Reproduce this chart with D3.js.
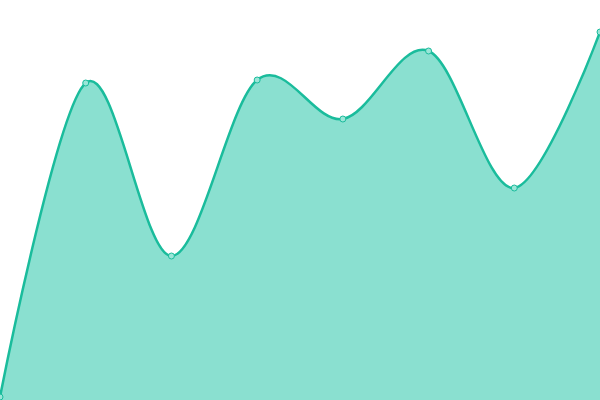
<!DOCTYPE html>
<html>
<head>
<meta charset="utf-8">
<script src="https://cdn.jsdelivr.net/npm/d3@7"></script>
<style>
  body { margin: 0; background: #fff; }
  svg { display: block; }
</style>
</head>
<body>
<div id="chart"></div>
<script>
var width = 600, height = 400;

// x index and height of each point
var categories = [0, 1, 2, 3, 4, 5, 6, 7];
var values = [3, 317, 144, 320, 281, 349, 212, 368];

var x = d3.scaleLinear().domain([0, categories.length - 1]).range([0, width]);
var y = d3.scaleLinear().domain([0, 400]).range([height, 0]);

var svg = d3.select("#chart").append("svg")
    .attr("width", width)
    .attr("height", height);

var data = categories.map(function (c, i) { return { c: c, v: values[i] }; });

var area = d3.area()
    .x(function (d) { return x(d.c); })
    .y0(height)
    .y1(function (d) { return y(d.v); })
    .curve(d3.curveCardinal);

var line = d3.line()
    .x(function (d) { return x(d.c); })
    .y(function (d) { return y(d.v); })
    .curve(d3.curveCardinal);

svg.append("path").datum(data)
    .attr("d", area)
    .style("fill", "#8ae0d0");

svg.append("path").datum(data)
    .attr("d", line)
    .style("fill", "none")
    .style("stroke", "#1abc9c")
    .style("stroke-width", 2.5);

svg.selectAll("circle").data(data).enter().append("circle")
    .attr("cx", function (d) { return x(d.c); })
    .attr("cy", function (d) { return y(d.v); })
    .attr("r", 3)
    .style("fill", "#9be6d8")
    .style("stroke", "#1abc9c")
    .style("stroke-width", 1);
</script>
</body>
</html>
